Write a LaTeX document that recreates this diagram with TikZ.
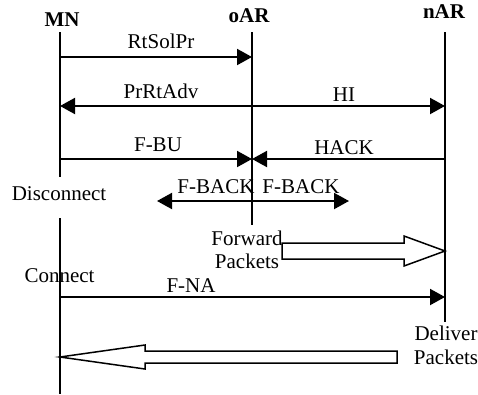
\documentclass[tikz,border=0pt]{standalone}
\usepackage{fontspec}
\setmainfont{Liberation Serif}
\usetikzlibrary{arrows.meta}
\begin{document}
\begin{tikzpicture}[x=1pt,y=-1pt,
  lifeline/.style={line width=1.6pt},
  msg/.style={line width=2pt,-{Triangle[length=15pt,width=16pt]}},
  msgboth/.style={line width=2pt,{Triangle[length=15pt,width=16pt]}-{Triangle[length=15pt,width=16pt]}},
  lbl/.style={font=\fontsize{21}{25}\selectfont,inner sep=0pt,anchor=base},
  hdr/.style={font=\bfseries\fontsize{21}{25}\selectfont,inner sep=0pt,anchor=base},
  hollow/.style={line width=1.5pt,fill=white,line join=miter}]
\useasboundingbox (0,0) rectangle (478,394);
% headers
\node[hdr] (mn) at (62,26) {MN};
\node[hdr] (oar) at (249,22) {oAR};
\node[hdr] (nar) at (444,18) {nAR};
% lifeline coordinates
\coordinate (mnTop) at (60,32);
\coordinate (mnGapA) at (60,177);
\coordinate (mnGapB) at (60,218);
\coordinate (mnBot) at (60,394);
\coordinate (oTop) at (252,32);
\coordinate (oBot) at (252,225);
\coordinate (nTop) at (445,32);
\coordinate (nBot) at (445,322);
\draw[lifeline] (mnTop) -- (mnGapA);
\draw[lifeline] (mnGapB) -- (mnBot);
\draw[lifeline] (oTop) -- (oBot);
\draw[lifeline] (nTop) -- (nBot);
% message points
\coordinate (m1) at (60,57);   \coordinate (o1) at (252,57);
\coordinate (m2) at (60,106);  \coordinate (n2) at (445,106);
\coordinate (m3) at (60,159);  \coordinate (o3) at (252,159); \coordinate (n3) at (446,159);
\coordinate (fbL) at (157,201); \coordinate (fbR) at (349,201);
\coordinate (m5) at (60,297);  \coordinate (n5) at (445,297);
% messages
\draw[msg] (m1) -- (o1);
\draw[msgboth] (m2) -- (n2);
\draw[msg] (m3) -- (o3);
\draw[msg] (n3) -- (o3);
\draw[msgboth] (fbL) -- (fbR);
\draw[msg] (m5) -- (n5);
% labels
\node[lbl] (lRt) at (161,48) {RtSolPr};
\node[lbl] (lPr) at (161,98) {PrRtAdv};
\node[lbl] (lHI) at (344,101) {HI};
\node[lbl] (lFBU) at (158,151) {F-BU};
\node[lbl] (lHACK) at (344,154) {HACK};
\node[lbl] (lFB1) at (216,193) {F-BACK};
\node[lbl] (lFB2) at (301,193) {F-BACK};
\node[lbl] (lDis) at (59,200) {Disconnect};
\node[lbl] (lFw1) at (247,245) {Forward};
\node[lbl] (lFw2) at (247,268) {Packets};
\node[lbl] (lCon) at (59.5,282) {Connect};
\node[lbl] (lFNA) at (191,292) {F-NA};
\node[lbl] (lDl1) at (446,340) {Deliver};
\node[lbl] (lDl2) at (446,364) {Packets};
% hollow arrows
\coordinate (fwTip) at (445,251);
\draw[hollow] (282,243) -- (404,243) -- (404,236) -- (fwTip) -- (404,266) -- (404,259) -- (282,259) -- cycle;
\coordinate (dlTip) at (60,357);
\draw[hollow] (397,351) -- (145,351) -- (145,345) -- (dlTip) -- (145,369) -- (145,363) -- (397,363) -- cycle;
\end{tikzpicture}
\end{document}
